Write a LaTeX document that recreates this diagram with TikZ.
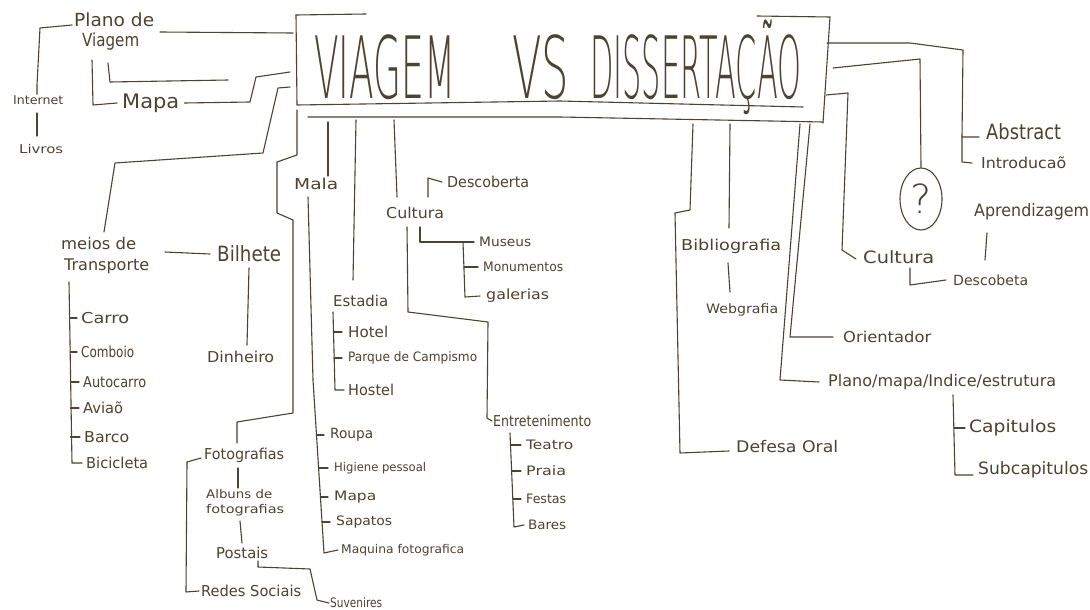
\documentclass[tikz,border=0pt]{standalone}
\usepackage{fontspec}
\setmainfont{DejaVu Sans}
\newfontfamily\titlefont{DejaVu Sans ExtraLight}
\usetikzlibrary{shapes.geometric}
\definecolor{ink}{HTML}{4E4231}
\newcommand\W[2]{\resizebox{#1pt}{\height}{#2}}
\begin{document}
\begin{tikzpicture}[x=1pt,y=-1pt,
  ln/.style={draw=ink,line width=1.1pt,line join=round,line cap=round},
  fs/.style={font=\fontsize{#1}{#1}\selectfont},
  lab/.style={inner sep=1pt,anchor=west,text=ink,fs=15},
  two/.style={lab,align=left}]
\fill[white] (0,0) rectangle (1090,610);
\useasboundingbox (0,0) rectangle (1090,610);

% ---------- title box ----------
\node[anchor=base west,inner sep=0,text=ink,font=\titlefont\fontsize{86}{86}\selectfont] (title) at (314,99)
  {\W{141}{VIAGEM}\hspace{57pt}\W{57}{VS}\hspace{21pt}\W{211}{DISSERTAÇÃO}};
\draw[ln] (296,15) -- (366,14);
\draw[ln] (757,16) -- (830,17) -- (823,123);
\draw[ln] (296,15) -- (297,105) -- (560,101) -- (803,107);
\draw[ln] (308,117) -- (560,117) -- (823,122);

% attachment points on the box
\coordinate (bPl) at (293,33);
\coordinate (bMa) at (290,72);
\coordinate (bMe) at (290,87);
\coordinate (bFo) at (297,110);
\coordinate (bMl) at (328,122);
\coordinate (bEs) at (356,120);
\coordinate (bCu) at (394,120);
\coordinate (bDe) at (693,124);
\coordinate (bBi) at (730,124);
\coordinate (bPm) at (800,124);
\coordinate (bOr) at (810,124);
\coordinate (bCr) at (826,95);
\coordinate (bQ) at (833,68);
\coordinate (bAb) at (827,43);
\coordinate (stub) at (228,80);

% ---------- labels ----------
\node[two,font=\fontsize{18}{20}\selectfont] (plano) at (73,32) {\W{80}{Plano de}\\\hspace*{8pt}\W{57}{Viagem}};
\node[lab,fs=12] (internet) at (12,100) {\W{50}{Internet}};
\node[lab,fs=12] (livros) at (18,149) {\W{44}{Livros}};
\node[lab,fs=20] (mapa1) at (121,103) {\W{57}{Mapa}};
\node[two,font=\fontsize{16}{21}\selectfont] (meios) at (60,256) {\W{75}{meios de}\\\hspace*{3pt}\W{85}{Transporte}};
\node[lab,fs=21] (bilhete) at (216,254) {\W{64}{Bilhete}};
\node[lab] (dinheiro) at (206,357) {\W{67}{Dinheiro}};
\node[lab] (carro) at (80,318) {\W{48}{Carro}};
\node[lab] (comboio) at (80,352) {\W{53}{Comboio}};
\node[lab] (autocarro) at (82,382) {\W{63}{Autocarro}};
\node[lab] (aviao) at (82,408) {\W{40}{Aviaõ}};
\node[lab] (barco) at (83,437) {\W{45}{Barco}};
\node[lab] (bicicleta) at (85,463) {\W{62}{Bicicleta}};

\node[lab] (foto) at (203,455) {\W{80}{Fotografias}};
\node[two,font=\fontsize{12}{15}\selectfont] (albuns) at (205,503) {\W{66}{Albuns de}\\\W{78}{fotografias}};
\node[lab] (postais) at (215,553) {\W{52}{Postais}};
\node[lab] (redes) at (200,591) {\W{100}{Redes Sociais}};
\node[lab,fs=13] (suvenires) at (329,603) {\W{52}{Suvenires}};

\node[lab] (mala) at (293,184) {\W{44}{Mala}};
\node[lab,fs=14] (roupa) at (329,435) {\W{43}{Roupa}};
\node[lab,fs=12] (higiene) at (333,468) {\W{92}{Higiene pessoal}};
\node[lab,fs=13] (mapa2) at (333,497) {\W{42}{Mapa}};
\node[lab,fs=13] (sapatos) at (335,522) {\W{56}{Sapatos}};
\node[lab,fs=12] (maquina) at (340,550) {\W{123}{Maquina fotografica}};

\node[lab] (estadia) at (332,301) {\W{55}{Estadia}};
\node[lab] (hotel) at (347,332) {\W{40}{Hotel}};
\node[lab,fs=13] (parque) at (347,358) {\W{129}{Parque de Campismo}};
\node[lab] (hostel) at (347,390) {\W{46}{Hostel}};

\node[lab] (cultura1) at (385,213) {\W{58}{Cultura}};
\node[lab] (descob1) at (446,182) {\W{82}{Descoberta}};
\node[lab,fs=13] (museus) at (478,242) {\W{52}{Museus}};
\node[lab,fs=13] (monum) at (482,267) {\W{80}{Monumentos}};
\node[lab,fs=14] (galerias) at (485,296) {\W{63}{galerias}};
\node[lab] (entret) at (492,421) {\W{98}{Entretenimento}};
\node[lab,fs=13] (teatro) at (525,445) {\W{47}{Teatro}};
\node[lab,fs=13] (praia) at (525,471) {\W{40}{Praia}};
\node[lab,fs=13] (festas) at (525,499) {\W{40}{Festas}};
\node[lab,fs=13] (bares) at (527,525) {\W{38}{Bares}};

\node[lab] (biblio) at (680,246) {\W{100}{Bibliografia}};
\node[lab,fs=13] (webgrafia) at (705,310) {\W{72}{Webgrafia}};
\node[lab,fs=16] (defesa) at (735,447) {\W{102}{Defesa Oral}};
\node[lab] (orient) at (842,337) {\W{88}{Orientador}};
\node[lab,fs=16] (planom) at (827,382) {\W{228}{Plano/mapa/Indice/estrutura}};
\node[lab,fs=17] (capit) at (968,428) {\W{87}{Capitulos}};
\node[lab,fs=17] (subcap) at (977,470) {\W{110}{Subcapitulos}};

\node[lab,fs=17] (cultura2) at (862,257) {\W{71}{Cultura}};
\node[lab,fs=14] (descob2) at (952,280) {\W{75}{Descobeta}};
\node[lab,fs=17] (aprend) at (973,212) {\W{115}{Aprendizagem}};
\node[draw=ink,line width=1.1pt,ellipse,minimum width=42pt,minimum height=62pt,inner sep=0,text=ink,
      font=\titlefont\fontsize{40}{40}\selectfont] (q) at (921,199) {?};
\node[lab,fs=21] (abstract) at (985,132) {\W{75}{Abstract}};
\node[lab] (intro) at (980,163) {\W{85}{Introducaõ}};

% ---------- connectors: left ----------
\draw[ln] (160,32) -- (bPl);
\draw[ln] (72,25) -- (40,28) -- (37,85) -- (internet.north -| 37,0);
\draw[ln] (37,113) -- (37,136);
\draw[ln] (92,60) -- (93,105) -- ([xshift=-4pt]mapa1.west);
\draw[ln] (108,63) -- (110,82) -- (stub);
\draw[ln] ([xshift=4pt]mapa1.east) -- (250,102) -- (256,77) -- (bMa);
\draw[ln] (bMe) -- (278,88) -- (263,153) -- (115,163) -- (104,232);
\draw[ln] (165,252) -- ([xshift=-6pt]bilhete.west);
\draw[ln] (249,268) -- (247,345);
\draw[ln] (69,282) -- (72,463) -- ([xshift=-3pt]bicicleta.west);
\foreach \n/\y in {carro/318,comboio/352,autocarro/382,aviao/408,barco/437}
  \draw[ln] (70.5,\y) -- ([xshift=-3pt]\n.west);

\draw[ln] (bFo) -- (297,155) -- (277,162) -- (277,213) -- (293,220) -- (293,413) -- (237,422) -- (237,443);
\draw[ln] (201,458) -- (187,462) -- (186,592) -- ([xshift=-1pt]redes.west);
\draw[ln] (238,468) -- (238,488);
\draw[ln] (240,521) -- (242,543);
\draw[ln] (258,561) -- (258,567) -- (310,569) -- (317,600) -- (suvenires.west);

\draw[ln] (bMl) -- (328,176);
\draw[ln] (308,197) -- (313,380) -- (324,553) -- ([xshift=-2pt]maquina.west);
\foreach \n/\y/\x in {roupa/435/316.5,higiene/468/318.6,mapa2/497/320.4,sapatos/522/322}
  \draw[ln] (\x,\y) -- ([xshift=-5pt]\n.west);

\draw[ln] (bEs) -- (353,280);
\draw[ln] (333,312) -- (335,390) -- ([xshift=-3pt]hostel.west);
\foreach \n/\y in {hotel/332,parque/358}
  \draw[ln] (334,\y) -- ([xshift=-5pt]\n.west);

\draw[ln] (bCu) -- (397,197);
\draw[ln] (428,197) -- (428,178) -- ([xshift=-4pt]descob1.west);
\draw[ln] (420,227) -- (420,242) -- ([xshift=-4pt]museus.west);
\draw[ln] (463,242) -- (465,297) -- ([xshift=-5pt]galerias.west);
\draw[ln] (464,267) -- ([xshift=-4pt]monum.west);
\draw[ln] (407,227) -- (408,312) -- (488,322) -- (487,418) -- (entret.west);
\draw[ln] (510,433) -- (514,527) -- ([xshift=-3pt]bares.west);
\foreach \n/\y/\x in {teatro/445/511,praia/471/512,festas/499/513}
  \draw[ln] (\x,\y) -- ([xshift=-4pt]\n.west);

% ---------- connectors: right ----------
\draw[ln] (bDe) -- (690,210) -- (675,213) -- (680,453) -- ([xshift=-6pt,yshift=-4pt]defesa.west);
\draw[ln] (bBi) -- (729,228);
\draw[ln] (728,263) -- (730,292);
\draw[ln] (bPm) -- (780,380) -- ([xshift=-8pt]planom.west);
\draw[ln] (bOr) -- (790,337) -- ([xshift=-9pt]orient.west);
\draw[ln] (953,395) -- (955,475) -- ([xshift=-4pt,yshift=-5pt]subcap.west);
\draw[ln] (954,428) -- ([xshift=-3pt]capit.west);
\draw[ln] (bCr) -- (848,93) -- (842,250) -- ([xshift=-6pt,yshift=-2pt]cultura2.west);
\draw[ln] (910,268) -- (910,285) -- ([xshift=-6pt]descob2.west);
\draw[ln] (987,233) -- (985,260);
\draw[ln] (bQ) -- (920,59) -- (q.north);
\draw[ln] (bAb) -- (910,43) -- (963,50) -- (962,137) -- ([xshift=-6pt,yshift=-5pt]abstract.west);
\draw[ln] (962,137) -- (962,162) -- ([xshift=-8pt]intro.west);
\end{tikzpicture}
\end{document}
